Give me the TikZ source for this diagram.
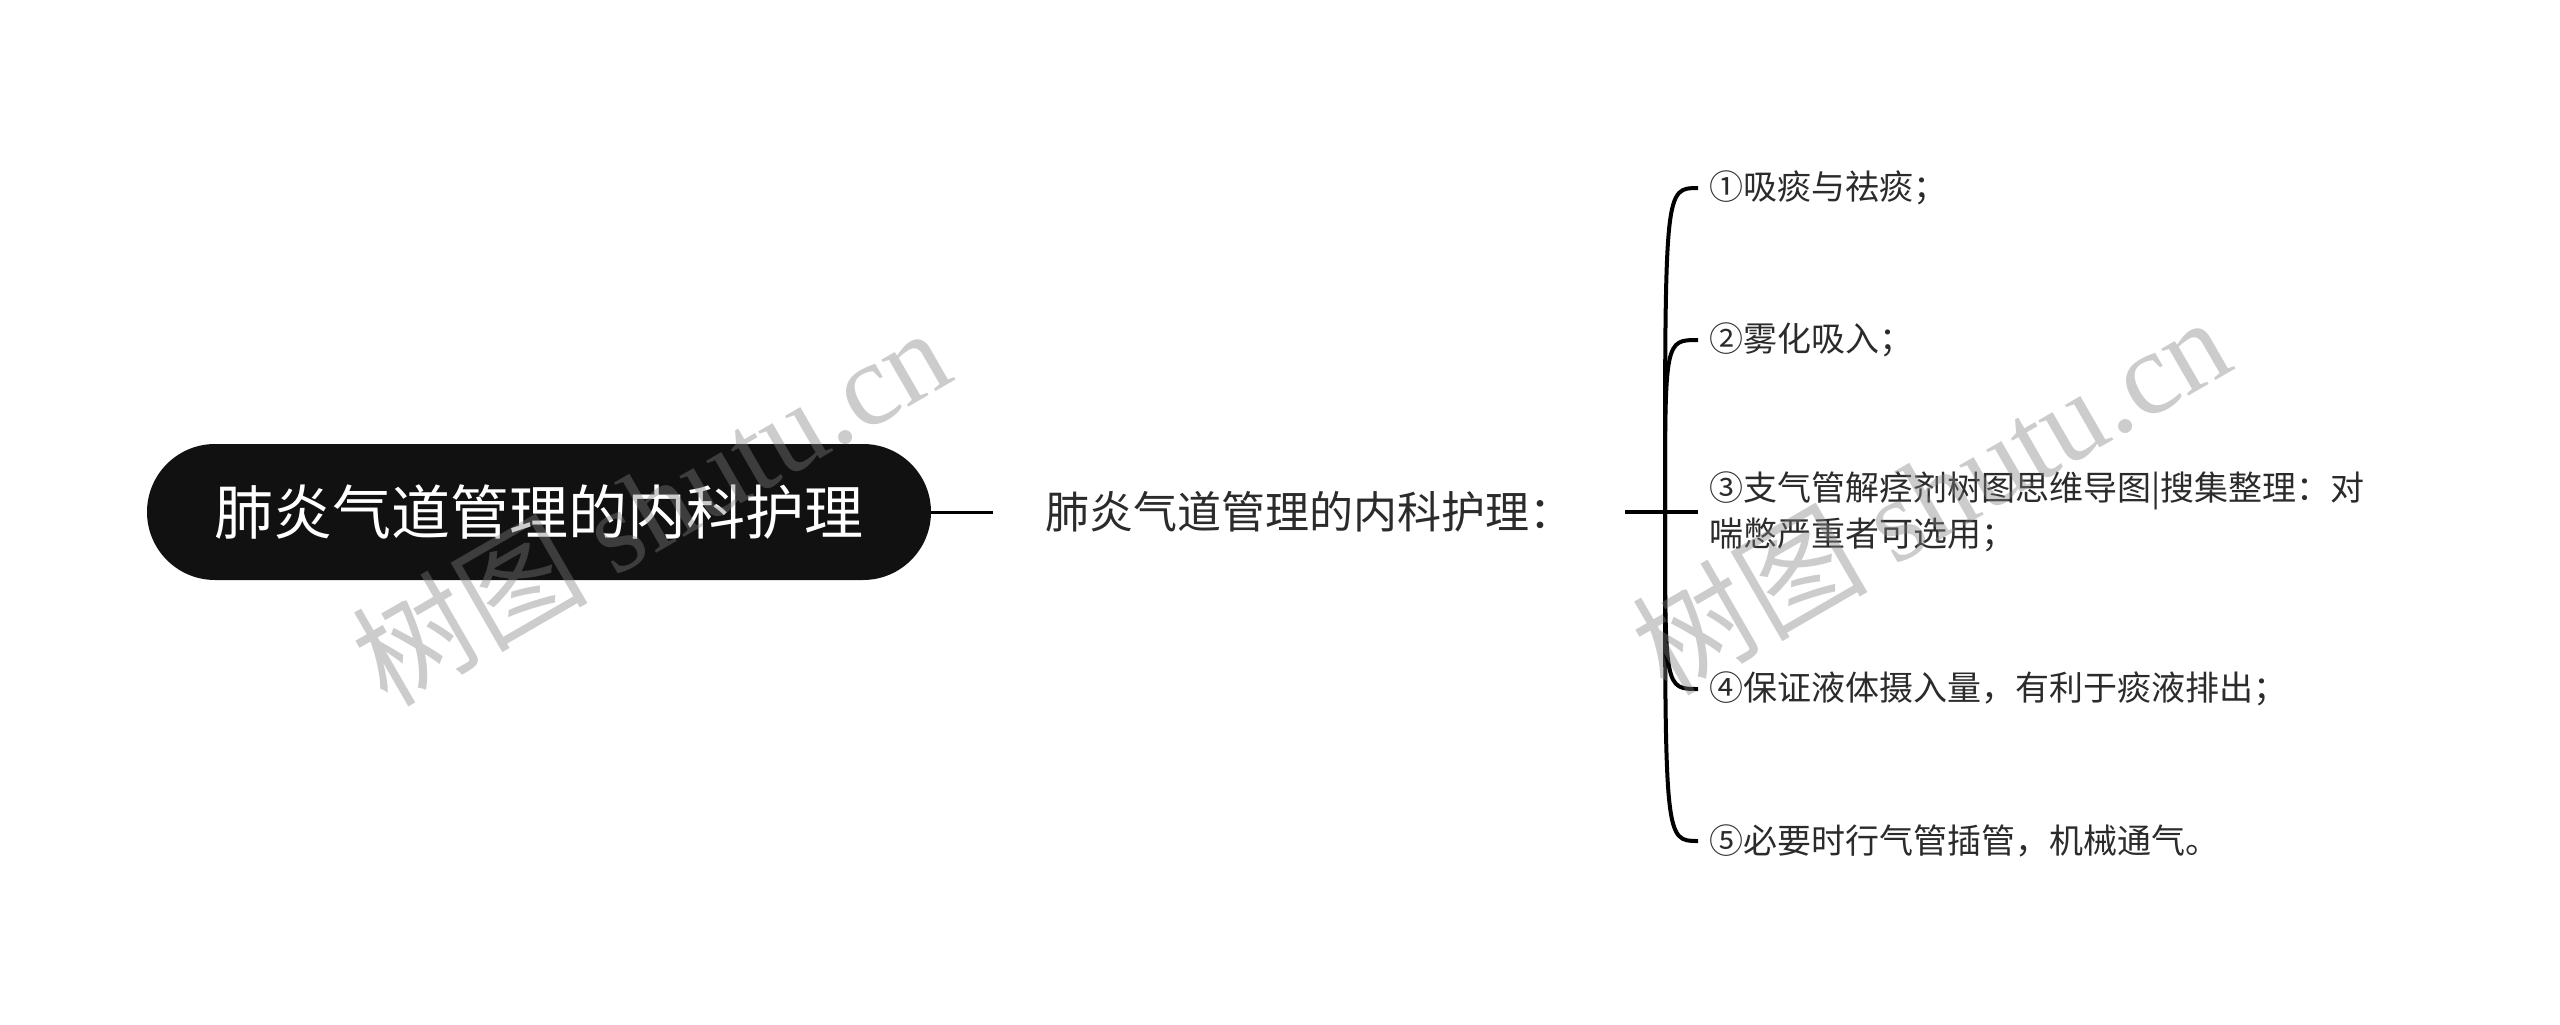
\documentclass[tikz,border=0pt]{standalone}
\usepackage{fontspec}
\setmainfont{Noto Sans CJK SC}
\newfontfamily\wmlatin{Liberation Serif}
\usetikzlibrary{positioning}
\definecolor{inkdark}{HTML}{111111}
\definecolor{txtgray}{HTML}{2B2B2B}
\tikzset{
    rootnode/.style={rectangle, fill=inkdark, rounded corners=68pt, minimum width=784pt, minimum height=136pt, inner sep=0pt, text=white, font=\fontsize{59}{62}\selectfont},
    midnode/.style={anchor=west, inner xsep=52pt, inner ysep=0pt, text=txtgray, font=\fontsize{44}{48}\selectfont},
    itemnode/.style={anchor=west, inner xsep=11pt, inner ysep=0pt, align=left, text=txtgray, font=\fontsize{34}{46}\selectfont},
    link/.style={line width=4pt, draw=black},
    watermark/.style={rotate=30, text=gray, opacity=0.4, font=\fontsize{118}{120}\selectfont}
}

\begin{document}
\begin{tikzpicture}[x=1pt, y=-1pt]
    \useasboundingbox (0,0) rectangle (2560,1025);

    % -----------------------------------------------------------------
    % NODI
    % -----------------------------------------------------------------
    \node[rootnode] (root) at (539,512) {肺炎气道管理的内科护理};
    \node[midnode] (mid) at (993,512) {肺炎气道管理的内科护理：};
    \coordinate (hub) at (1665,512);

    \node[itemnode] (item1) at (1698,188) {①吸痰与祛痰；};
    \node[itemnode] (item2) at (1698,340) {②雾化吸入；};
    \node[itemnode] (item3) at (1698,512) {③支气管解痉剂树图思维导图|搜集整理：对\\喘憋严重者可选用；};
    \node[itemnode] (item4) at (1698,689) {④保证液体摄入量，有利于痰液排出；};
    \node[itemnode] (item5) at (1698,841) {⑤必要时行气管插管，机械通气。};

    % -----------------------------------------------------------------
    % CONNESSIONI
    % -----------------------------------------------------------------
    \draw[link, line width=3pt] (root.east) -- (mid.west);
    \draw[link] (mid.east) -- (item3.west);
    \foreach \i in {1,2,4,5} {
        \draw[link] (hub) .. controls (hub |- item\i.west) .. (item\i.west);
    }

    % -----------------------------------------------------------------
    % FILIGRANA
    % -----------------------------------------------------------------
    \node[watermark] (wm1) at (650,505) {树图 {\wmlatin shutu.cn}};
    \node[watermark] (wm2) at (1930,494) {树图 {\wmlatin shutu.cn}};

\end{tikzpicture}
\end{document}
